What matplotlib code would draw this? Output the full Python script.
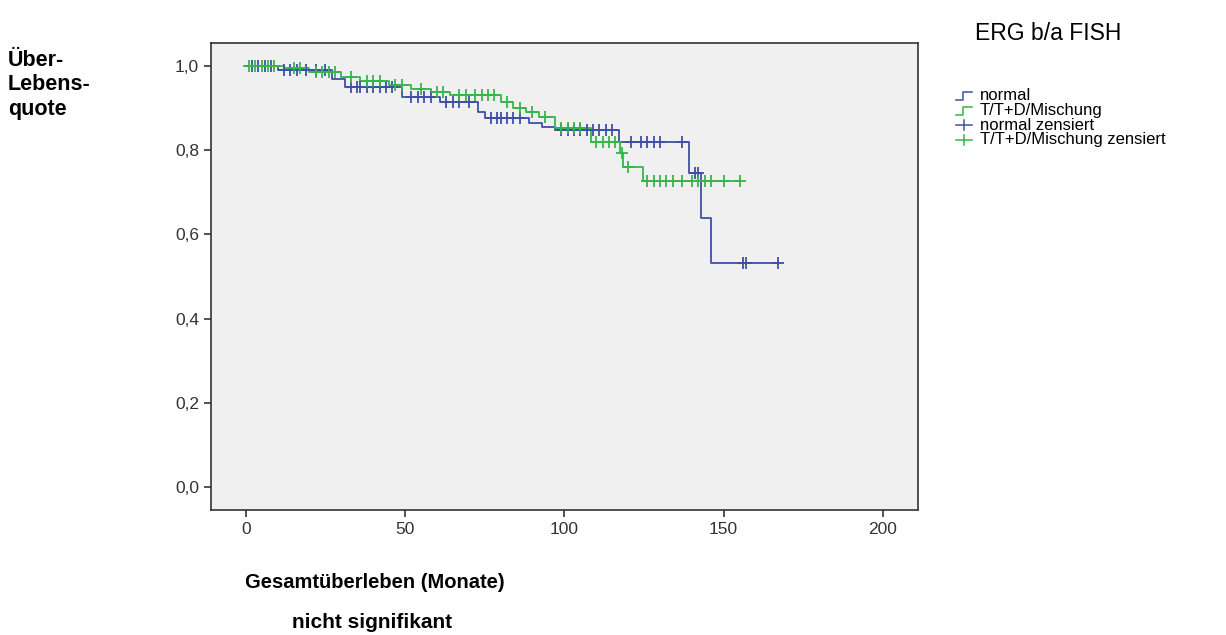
import numpy as np
import matplotlib.pyplot as plt
from matplotlib.lines import Line2D
from matplotlib.ticker import FuncFormatter

# Kaplan-Meier steps (time of drop, survival after drop)
normal_t = [0, 10, 27, 31, 49, 61, 73, 75, 89, 93, 97, 117, 139, 143, 146]
normal_s = [1.0, 0.99, 0.97, 0.951, 0.927, 0.915, 0.89, 0.876, 0.864, 0.856,
            0.848, 0.82, 0.745, 0.638, 0.532]
normal_end = 167
normal_cens = [2, 4, 6, 8, 12, 14, 16, 19, 22, 25, 33, 35, 36, 38, 40, 42, 44,
               46, 52, 54, 56, 58, 63, 65, 67, 70, 77, 79, 80, 82, 84, 86, 99,
               101, 103, 105, 107, 109, 111, 113, 115, 121, 124, 126, 128, 130,
               137, 141, 142, 156, 157, 167]

mix_t = [0, 12, 20, 30, 36, 45, 52, 58, 64, 80, 84, 88, 92, 97, 108.5, 117.6,
         118.5, 124.6]
mix_s = [1.0, 0.995, 0.985, 0.975, 0.965, 0.955, 0.945, 0.939, 0.931, 0.915,
         0.90, 0.89, 0.88, 0.853, 0.82, 0.793, 0.76, 0.727]
mix_end = 155
mix_cens = [1, 3, 5, 7, 9, 15, 17, 22, 24, 26, 28, 33, 38, 40, 42, 47, 49, 55,
            60, 62, 67, 69, 72, 74, 76, 78, 82, 86, 90, 94, 99, 101, 103, 105,
            110, 112, 114, 116, 118, 120, 126, 128, 130, 132, 134, 137, 140,
            142, 144, 146, 150, 155]

legend_labels = ['normal', 'T/T+D/Mischung', 'normal zensiert',
                 'T/T+D/Mischung zensiert']
x_ticks = [0, 50, 100, 150, 200]
y_ticks = [0.0, 0.2, 0.4, 0.6, 0.8, 1.0]

blue = '#3f4fa8'
green = '#35b54a'

plt.rcParams['font.family'] = ['Liberation Sans', 'DejaVu Sans']

W, H = 1226, 635
fig = plt.figure(figsize=(W / 100, H / 100), dpi=100)
ax = fig.add_axes([210.7 / W, 1 - 510 / H, (918 - 210.7) / W, (510 - 43) / H])
ax.set_facecolor('#f0f0f0')


def km(ax, t, s, end, cens, color):
    tt = list(t) + [end]
    ss = list(s) + [s[-1]]
    ax.step(tt, ss, where='post', color=color, lw=1.3, zorder=3)
    idx = np.searchsorted(t, cens, side='right') - 1
    cy = np.array(s)[idx]
    ax.plot(cens, cy, ls='none', marker='+', ms=8, mew=1.3, color=color,
            zorder=4)


km(ax, normal_t, normal_s, normal_end, normal_cens, blue)
km(ax, mix_t, mix_s, mix_end, mix_cens, green)

ax.set_xlim(-11, 211)
ax.set_ylim(-0.055, 1.055)
ax.set_xticks(x_ticks)
ax.set_yticks(y_ticks)
ax.yaxis.set_major_formatter(FuncFormatter(lambda v, p: f'{v:.1f}'.replace('.', ',')))
ax.tick_params(length=5, width=1.2, labelsize=12.5, colors='#333333',
               labelcolor='#333333')
for sp in ax.spines.values():
    sp.set_color('#333333')
    sp.set_linewidth(1.2)


def px(x, y):
    return x / W, 1 - y / H


# texts
fig.text(*px(975, 33), 'ERG b/a FISH', fontsize=16.5, va='center', ha='left')
for i, s in enumerate(['Über-', 'Lebens-', 'quote']):
    fig.text(*px(8, 60 + 25 * i), s, fontsize=15.5, fontweight='bold',
             va='center', ha='left')
fig.text(*px(375, 583), 'Gesamtüberleben (Monate)', fontsize=14.5,
         fontweight='bold', ha='center', va='center')
fig.text(*px(372, 623), 'nicht signifikant', fontsize=15, fontweight='bold',
         ha='center', va='center')

# legend
colors = [blue, green, blue, green]
for i, (lab, c) in enumerate(zip(legend_labels, colors)):
    y = 96 + 14.6 * i
    fig.text(*px(980, y), lab, fontsize=12, va='center', ha='left')
    if i < 2:
        xs = [956, 963, 963, 972]
        ys = [y + 4, y + 4, y - 4, y - 4]
        fig.add_artist(Line2D([a / W for a in xs], [1 - b / H for b in ys],
                              color=c, lw=1.1, transform=fig.transFigure))
    else:
        fig.add_artist(Line2D([956 / W, 972 / W], [1 - y / H] * 2, color=c,
                              lw=1.1, transform=fig.transFigure))
        fig.add_artist(Line2D([964 / W] * 2, [1 - (y - 5) / H, 1 - (y + 5) / H],
                              color=c, lw=1.1, transform=fig.transFigure))

fig.savefig('out.png', dpi=100)
